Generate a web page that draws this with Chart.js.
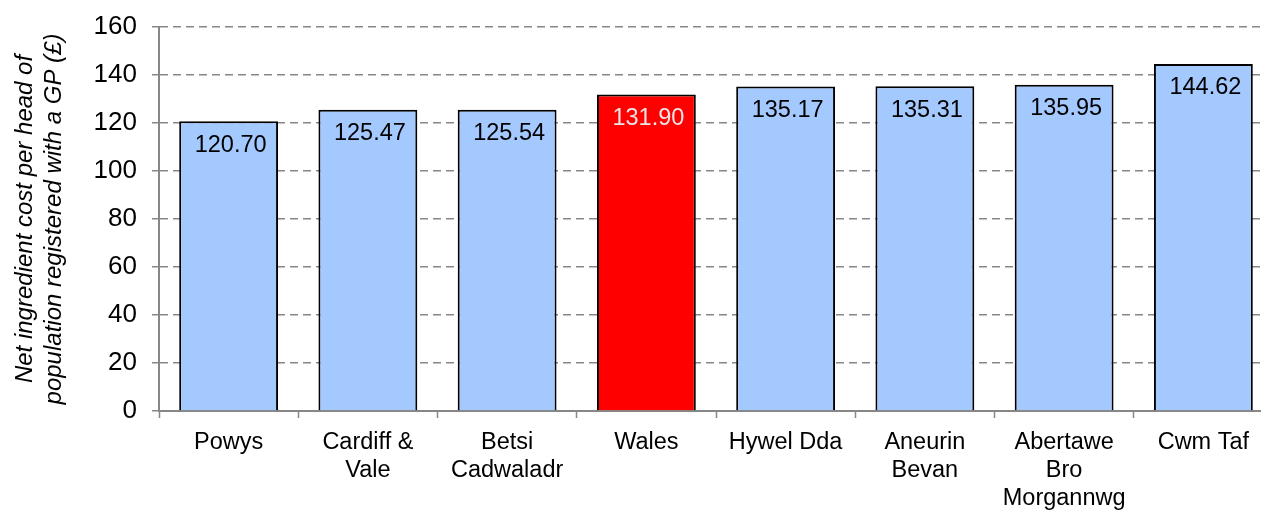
<!DOCTYPE html>
<html>
<head>
<meta charset="utf-8">
<title>Net ingredient cost per head</title>
<script src="https://cdn.jsdelivr.net/npm/chart.js@4.4.1/dist/chart.umd.min.js"></script>
<style>
  html, body { margin: 0; padding: 0; background: #fff; overflow: hidden; }
  #wrap { width: 1275px; height: 510px; }
</style>
</head>
<body>
<div id="wrap"><canvas id="chart" width="1275" height="510"></canvas></div>
<script>
// Health boards (multi-line labels) and net ingredient cost per head (£)
const boards = [
  ["Powys"],
  ["Cardiff &", "Vale"],
  ["Betsi", "Cadwaladr"],
  ["Wales"],
  ["Hywel Dda"],
  ["Aneurin", "Bevan"],
  ["Abertawe", "Bro", "Morgannwg"],
  ["Cwm Taf"]
];
const costs = [120.70, 125.47, 125.54, 131.90, 135.17, 135.31, 135.95, 144.62];
const highlight = "Wales";
const yTitle = ["Net ingredient cost per head of", "population registered with a GP (£)"];

const FONT = '"Liberation Sans", Arial, sans-serif';
const GRID = "#878787";

Chart.defaults.font.family = FONT;
Chart.defaults.color = "#000";

// Is this bar the all-Wales figure?
function isHighlight(i) {
  return boards[i].join(" ") === highlight;
}

// Draw the value inside the top of each bar
const valueLabels = {
  id: "valueLabels",
  afterDatasetsDraw(chart) {
    const ctx = chart.ctx;
    const meta = chart.getDatasetMeta(0);
    ctx.save();
    ctx.font = "23.5px " + FONT;
    ctx.textAlign = "center";
    ctx.textBaseline = "middle";
    meta.data.forEach((bar, i) => {
      ctx.fillStyle = isHighlight(i) ? "#e6e6e6" : "#000";
      ctx.fillText(costs[i].toFixed(2), bar.x + 2, bar.y + 24);
    });
    ctx.restore();
  }
};

const ctx = document.getElementById("chart").getContext("2d");

new Chart(ctx, {
  type: "bar",
  data: {
    labels: boards,
    datasets: [
      {
        data: costs,
        backgroundColor: costs.map((v, i) => (isHighlight(i) ? "#ff0000" : "#a4c9ff")),
        borderColor: "#000",
        borderWidth: 2,
        categoryPercentage: 1,
        barPercentage: 0.71
      }
    ]
  },
  options: {
    responsive: false,
    animation: false,
    layout: { padding: { top: 27, right: 2, left: 0, bottom: 0 } },
    plugins: {
      legend: { display: false },
      tooltip: { enabled: false }
    },
    scales: {
      x: {
        offset: true,
        grid: {
          display: true,
          drawOnChartArea: false,
          drawTicks: true,
          tickLength: 7,
          tickColor: GRID,
          tickWidth: 1.5
        },
        border: { display: true, color: GRID, width: 2 },
        ticks: {
          font: { size: 23.5, lineHeight: 1.18 },
          color: "#000",
          padding: 11,
          maxRotation: 0,
          autoSkip: false
        },
        afterFit(scale) {
          scale.height = 99;
        }
      },
      y: {
        min: 0,
        max: 160,
        ticks: {
          stepSize: 20,
          // small line height so the top label does not push the plot down
          font: { size: 26, lineHeight: 0.85 },
          color: "#000",
          padding: 15
        },
        grid: {
          color: GRID,
          lineWidth: 1.5,
          tickLength: 7,
          tickColor: GRID,
          tickWidth: 1.5
        },
        border: { display: true, color: GRID, width: 2, dash: [8, 5] },
        title: {
          display: true,
          text: yTitle,
          font: { size: 24, style: "italic", lineHeight: 1.2 },
          color: "#000",
          padding: { top: 11, bottom: 0 }
        },
        afterFit(scale) {
          scale.width = 159;
        }
      }
    }
  },
  plugins: [valueLabels]
});
</script>
</body>
</html>
